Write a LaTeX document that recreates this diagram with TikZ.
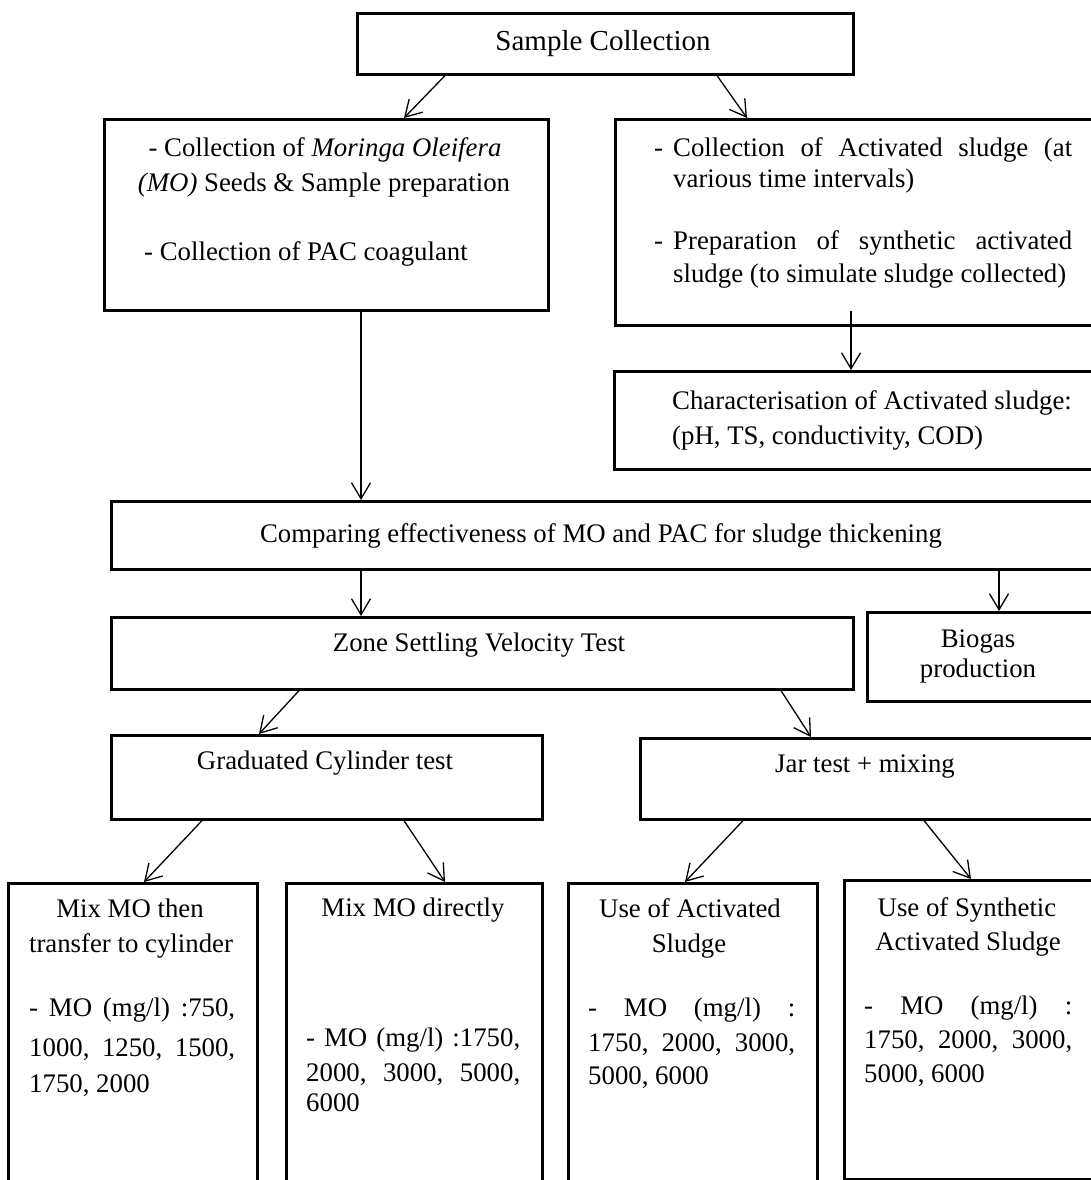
\documentclass[tikz,border=0pt]{standalone}
\usepackage{fontspec}
\setmainfont{Liberation Serif}
\usetikzlibrary{arrows.meta}
\begin{document}
\begin{tikzpicture}[x=1pt,y=-1pt,
  box/.style={draw, line width=2.6pt, inner sep=0pt, anchor=north west},
  arr/.style={-{Straight Barb[length=16pt,width=19pt]}, line width=1.3pt},
  txt/.style={inner sep=0pt, font=\fontsize{26.8}{32}\selectfont, anchor=base},
  txtl/.style={txt, anchor=base west}]
\useasboundingbox (0,0) rectangle (1091,1180);
\clip (0,0) rectangle (1091,1180);
% boxes
\node[box, minimum width=496pt, minimum height=61pt] (sc) at (356,12) {};
\node[box, minimum width=444pt, minimum height=191pt] (lb) at (103,118) {};
\node[box, minimum width=490pt, minimum height=206pt] (rb) at (614,118) {};
\node[box, minimum width=490pt, minimum height=98pt] (ch) at (613,370) {};
\node[box, minimum width=990pt, minimum height=68pt] (cmp) at (110,500) {};
\node[box, minimum width=742pt, minimum height=72pt] (zone) at (110,616) {};
\node[box, minimum width=240pt, minimum height=89pt] (bio) at (866,611) {};
\node[box, minimum width=431pt, minimum height=84pt] (grad) at (110,734) {};
\node[box, minimum width=470pt, minimum height=81pt] (jar) at (639,737) {};
\node[box, minimum width=249pt, minimum height=320pt] (b1) at (7,882) {};
\node[box, minimum width=256pt, minimum height=320pt] (b2) at (285,882) {};
\node[box, minimum width=249pt, minimum height=320pt] (b3) at (567,882) {};
\node[box, minimum width=260pt, minimum height=299pt] (b4) at (843,879) {};
% texts
\node[txt, font=\fontsize{29}{34}\selectfont] (t0) at (603,51) {Sample Collection};
\node[txt] (t1) at (325,156) {- Collection of \textit{Moringa Oleifera}};
\node[txt] (t2) at (324,191) {\textit{(MO)} Seeds \& Sample preparation};
\node[txtl] (t3) at (144,260) {- Collection of PAC coagulant};
\node[txtl] (t4) at (654,156) {\makebox[19pt][l]{-}\makebox[399pt][s]{Collection of Activated sludge (at}};
\node[txtl] (t5) at (673,187) {various time intervals)};
\node[txtl] (t6) at (654,249) {\makebox[19pt][l]{-}\makebox[399pt][s]{Preparation of synthetic activated}};
\node[txtl] (t7) at (673,282) {sludge (to simulate sludge collected)};
\node[txtl] (t8) at (672,409) {Characterisation of Activated sludge:};
\node[txtl] (t9) at (672,444) {(pH, TS, conductivity, COD)};
\node[txt] (t10) at (601,542) {Comparing effectiveness of MO and PAC for sludge thickening};
\node[txt] (t11) at (479,651) {Zone Settling Velocity Test};
\node[txt] (t12) at (978,647) {Biogas};
\node[txt] (t13) at (978,677) {production};
\node[txt] (t14) at (325,769) {Graduated Cylinder test};
\node[txt] (t15) at (865,772) {Jar test + mixing};
% bottom box texts
\node[txt] (t16) at (130,917) {Mix MO then};
\node[txt] (t17) at (131,952) {transfer to cylinder};
\node[txtl] (t18) at (29,1016) {\makebox[206pt][s]{- MO (mg/l) :750,}};
\node[txtl] (t19) at (29,1056) {\makebox[206pt][s]{1000, 1250, 1500,}};
\node[txtl] (t20) at (29,1092) {1750, 2000};
\node[txt] (t21) at (413,916) {Mix MO directly};
\node[txtl] (t22) at (306,1046) {\makebox[214pt][s]{- MO (mg/l) :1750,}};
\node[txtl] (t23) at (306,1081) {\makebox[214pt][s]{2000, 3000, 5000,}};
\node[txtl] (t24) at (306,1111) {6000};
\node[txt] (t25) at (690,917) {Use of Activated};
\node[txt] (t26) at (689,952) {Sludge};
\node[txtl] (t27) at (588,1016) {\makebox[207pt][s]{- MO (mg/l) :}};
\node[txtl] (t28) at (588,1051) {\makebox[207pt][s]{1750, 2000, 3000,}};
\node[txtl] (t29) at (588,1084) {5000, 6000};
\node[txt] (t30) at (967,916) {Use of Synthetic};
\node[txt] (t31) at (968,950) {Activated Sludge};
\node[txtl] (t32) at (864,1014) {\makebox[208pt][s]{- MO (mg/l) :}};
\node[txtl] (t33) at (864,1048) {\makebox[208pt][s]{1750, 2000, 3000,}};
\node[txtl] (t34) at (864,1082) {5000, 6000};
% arrows
\draw[arr] ([xshift=89pt]sc.south west) -- ([xshift=301pt]lb.north west);
\draw[arr] ([xshift=361pt]sc.south west) -- ([xshift=133pt]rb.north west);
\draw[arr] ([xshift=258pt]lb.south west) -- ([xshift=251pt]cmp.north west);
\draw[arr] ([xshift=237pt,yshift=16pt]rb.south west) -- ([xshift=238pt]ch.north west);
\draw[arr] ([xshift=251pt]cmp.south west) -- ([xshift=251pt]zone.north west);
\draw[arr] ([xshift=889pt]cmp.south west) -- ([xshift=133pt]bio.north west);
\draw[arr] ([xshift=189pt]zone.south west) -- ([xshift=149pt]grad.north west);
\draw[arr] ([xshift=671pt]zone.south west) -- ([xshift=172pt]jar.north west);
\draw[arr] ([xshift=92pt]grad.south west) -- ([xshift=137pt]b1.north west);
\draw[arr] ([xshift=294pt]grad.south west) -- ([xshift=160pt]b2.north west);
\draw[arr] ([xshift=104pt]jar.south west) -- ([xshift=118pt]b3.north west);
\draw[arr] ([xshift=285pt]jar.south west) -- ([xshift=128pt]b4.north west);
\end{tikzpicture}
\end{document}
